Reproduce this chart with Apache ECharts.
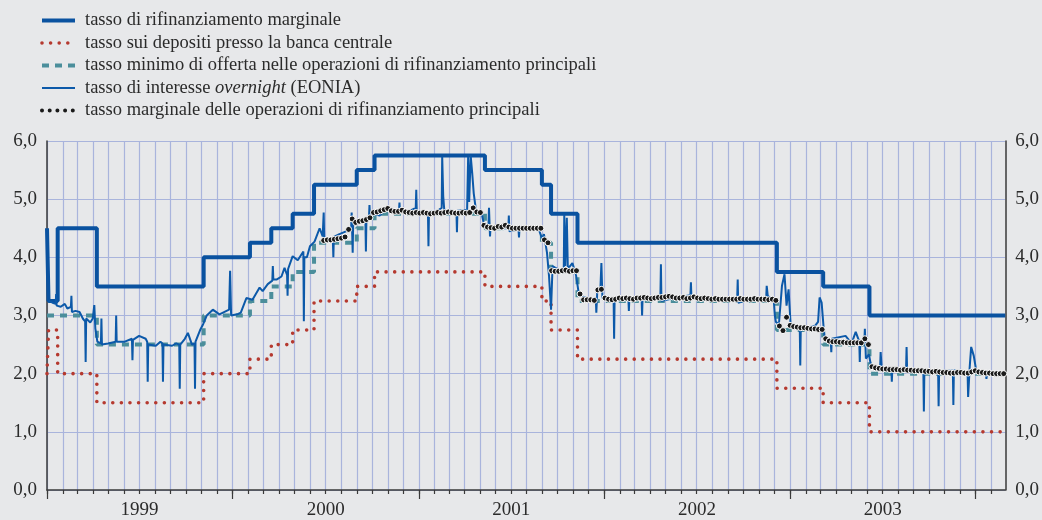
<!DOCTYPE html>
<html>
<head>
<meta charset="utf-8">
<title>Tassi di interesse dell'area dell'euro</title>
<script src="https://cdn.jsdelivr.net/npm/echarts@6/dist/echarts.min.js"></script>
<style>
  html, body { margin: 0; padding: 0; background: #e7e8ea; }
  #chart { width: 1042px; height: 520px; }
</style>
</head>
<body>
<div id="chart"></div>
<script>
// tassi ufficiali: [data di decorrenza, valore]
var marginalLending = [
  ['1999-01-01', 4.5], ['1999-01-04', 3.25], ['1999-01-22', 4.5], ['1999-04-09', 3.5],
  ['1999-11-05', 4.0], ['2000-02-04', 4.25], ['2000-03-17', 4.5], ['2000-04-28', 4.75],
  ['2000-06-09', 5.25], ['2000-09-01', 5.5], ['2000-10-06', 5.75], ['2001-05-11', 5.5],
  ['2001-08-31', 5.25], ['2001-09-18', 4.75], ['2001-11-09', 4.25], ['2002-12-06', 3.75],
  ['2003-03-07', 3.5], ['2003-06-06', 3.0], ['2004-02-28', 3.0]
]
var depositRate = [
  ['1999-01-01', 2.0], ['1999-01-04', 2.75], ['1999-01-22', 2.0], ['1999-04-09', 1.5],
  ['1999-11-05', 2.0], ['2000-02-04', 2.25], ['2000-03-17', 2.5], ['2000-04-28', 2.75],
  ['2000-06-09', 3.25], ['2000-09-01', 3.5], ['2000-10-06', 3.75], ['2001-05-11', 3.5],
  ['2001-08-31', 3.25], ['2001-09-18', 2.75], ['2001-11-09', 2.25], ['2002-12-06', 1.75],
  ['2003-03-07', 1.5], ['2003-06-06', 1.0], ['2004-02-28', 1.0]
]
var minBidRate = [
  ['1999-01-01', 3.0], ['1999-04-09', 2.5], ['1999-11-05', 3.0], ['2000-02-04', 3.25],
  ['2000-03-17', 3.5], ['2000-04-28', 3.75], ['2000-06-09', 4.25], ['2000-09-01', 4.5],
  ['2000-10-06', 4.75], ['2001-05-11', 4.5], ['2001-08-31', 4.25], ['2001-09-18', 3.75],
  ['2001-11-09', 3.25], ['2002-12-06', 2.75], ['2003-03-07', 2.5], ['2003-06-06', 2.0],
  ['2004-02-28', 2.0]
]
// EONIA
var eonia = [
  ['1999-01-04', 3.25], ['1999-01-12', 3.22], ['1999-01-18', 3.2], ['1999-01-19', 3.37], ['1999-01-20', 3.17],
  ['1999-01-28', 3.15], ['1999-02-05', 3.2], ['1999-02-10', 3.12], ['1999-02-17', 3.15], ['1999-02-18', 3.34],
  ['1999-02-19', 3.06], ['1999-02-26', 3.08], ['1999-03-06', 3.06], ['1999-03-13', 2.94], ['1999-03-17', 2.9],
  ['1999-03-18', 2.2], ['1999-03-19', 2.95], ['1999-03-27', 2.88], ['1999-04-01', 2.95], ['1999-04-04', 3.18],
  ['1999-04-06', 2.78], ['1999-04-10', 2.55], ['1999-04-17', 2.52], ['1999-04-18', 2.95], ['1999-04-19', 2.5],
  ['1999-05-01', 2.52], ['1999-05-16', 2.55], ['1999-05-17', 3.0], ['1999-05-18', 2.55], ['1999-06-03', 2.55],
  ['1999-06-17', 2.6], ['1999-06-18', 2.23], ['1999-06-19', 2.58], ['1999-07-01', 2.65], ['1999-07-14', 2.6],
  ['1999-07-17', 2.55], ['1999-07-18', 1.86], ['1999-07-19', 2.5], ['1999-08-03', 2.48], ['1999-08-12', 2.55],
  ['1999-08-16', 2.52], ['1999-08-17', 1.86], ['1999-08-18', 2.5], ['1999-09-04', 2.48], ['1999-09-12', 2.52],
  ['1999-09-18', 2.5], ['1999-09-19', 1.74], ['1999-09-20', 2.5], ['1999-09-29', 2.6], ['1999-10-05', 2.7],
  ['1999-10-13', 2.5], ['1999-10-18', 2.52], ['1999-10-19', 1.74], ['1999-10-20', 2.55], ['1999-10-29', 2.75],
  ['1999-11-04', 2.85], ['1999-11-11', 3.0], ['1999-11-23', 3.1], ['1999-12-06', 3.02], ['1999-12-20', 3.08],
  ['1999-12-25', 3.1], ['1999-12-27', 3.77], ['1999-12-29', 3.0],
  ['2000-01-10', 3.02], ['2000-01-17', 3.05], ['2000-01-28', 3.3], ['2000-02-09', 3.27], ['2000-02-23', 3.48],
  ['2000-02-29', 3.42], ['2000-03-10', 3.54], ['2000-03-19', 3.6], ['2000-03-20', 3.85], ['2000-03-21', 3.62],
  ['2000-03-28', 3.62], ['2000-04-06', 3.67], ['2000-04-12', 3.82], ['2000-04-17', 3.7], ['2000-04-18', 3.34],
  ['2000-04-19', 3.8], ['2000-04-28', 4.02], ['2000-05-08', 3.95], ['2000-05-19', 4.1], ['2000-05-20', 2.9],
  ['2000-05-21', 4.0], ['2000-05-26', 4.0], ['2000-06-01', 4.19], ['2000-06-10', 4.27], ['2000-06-20', 4.5],
  ['2000-06-26', 4.36], ['2000-06-28', 4.77], ['2000-06-29', 4.3], ['2000-07-06', 4.3], ['2000-07-16', 4.3],
  ['2000-07-17', 4.0], ['2000-07-18', 4.35], ['2000-07-29', 4.4], ['2000-08-12', 4.45], ['2000-08-21', 4.5],
  ['2000-08-22', 4.77], ['2000-08-24', 4.08], ['2000-08-25', 4.6], ['2000-09-06', 4.6], ['2000-09-18', 4.62],
  ['2000-09-19', 4.1], ['2000-09-20', 4.65], ['2000-09-25', 4.68], ['2000-09-26', 4.9], ['2000-09-27', 4.72],
  ['2000-10-02', 4.75], ['2000-10-16', 4.72], ['2000-10-30', 4.85], ['2000-11-10', 4.78], ['2000-11-23', 4.8],
  ['2000-11-24', 4.94], ['2000-11-25', 4.78], ['2000-12-14', 4.8], ['2000-12-26', 4.85], ['2000-12-27', 5.16],
  ['2000-12-28', 4.8],
  ['2001-01-12', 4.78], ['2001-01-19', 4.76], ['2001-01-20', 4.19], ['2001-01-21', 4.78], ['2001-02-07', 4.8],
  ['2001-02-15', 4.85], ['2001-02-16', 5.73], ['2001-02-18', 5.05], ['2001-02-20', 4.82], ['2001-03-08', 4.8],
  ['2001-03-16', 4.78], ['2001-03-17', 4.43], ['2001-03-18', 4.8], ['2001-04-06', 4.82], ['2001-04-08', 5.73],
  ['2001-04-10', 4.95], ['2001-04-13', 5.75], ['2001-04-16', 5.45], ['2001-04-19', 5.1], ['2001-04-24', 4.77],
  ['2001-05-04', 4.78], ['2001-05-10', 4.53], ['2001-05-18', 4.55], ['2001-05-19', 4.85], ['2001-05-21', 4.36],
  ['2001-05-22', 4.52], ['2001-06-02', 4.52], ['2001-06-18', 4.5], ['2001-06-26', 4.5], ['2001-06-27', 4.72],
  ['2001-06-28', 4.45], ['2001-07-16', 4.48], ['2001-07-17', 4.34], ['2001-07-18', 4.5], ['2001-08-06', 4.52],
  ['2001-08-25', 4.48], ['2001-09-01', 4.3], ['2001-09-04', 4.4], ['2001-09-10', 4.08], ['2001-09-14', 3.68],
  ['2001-09-18', 3.1], ['2001-09-21', 3.85], ['2001-10-04', 3.78], ['2001-10-13', 3.8], ['2001-10-14', 4.73],
  ['2001-10-16', 3.85], ['2001-10-19', 4.68], ['2001-10-21', 3.8], ['2001-10-30', 3.9], ['2001-11-06', 3.7],
  ['2001-11-12', 3.35], ['2001-11-26', 3.3], ['2001-12-15', 3.3], ['2001-12-16', 3.05], ['2001-12-18', 3.44],
  ['2001-12-24', 3.45], ['2001-12-26', 3.9], ['2001-12-28', 3.3],
  ['2002-01-10', 3.27], ['2002-01-19', 3.28], ['2002-01-20', 2.6], ['2002-01-21', 3.3], ['2002-02-08', 3.3],
  ['2002-02-17', 3.3], ['2002-02-18', 3.08], ['2002-02-19', 3.3], ['2002-03-15', 3.3], ['2002-03-16', 3.0],
  ['2002-03-17', 3.3], ['2002-04-09', 3.3], ['2002-04-21', 3.32], ['2002-04-22', 3.88], ['2002-04-23', 3.25],
  ['2002-05-18', 3.3], ['2002-06-19', 3.35], ['2002-06-20', 3.57], ['2002-06-21', 3.3], ['2002-07-16', 3.3],
  ['2002-08-14', 3.3], ['2002-09-19', 3.3], ['2002-09-20', 3.62], ['2002-09-21', 3.22], ['2002-10-22', 3.3],
  ['2002-11-15', 3.3], ['2002-11-16', 3.51], ['2002-11-18', 3.34], ['2002-11-30', 3.25], ['2002-12-02', 3.0],
  ['2002-12-04', 2.89], ['2002-12-10', 2.85], ['2002-12-16', 3.51], ['2002-12-21', 3.71], ['2002-12-25', 3.17],
  ['2002-12-29', 3.45],
  ['2003-01-02', 2.85], ['2003-01-08', 2.8], ['2003-01-20', 2.8], ['2003-01-21', 2.14], ['2003-01-22', 2.8],
  ['2003-02-06', 2.8], ['2003-02-19', 2.82], ['2003-02-25', 2.89], ['2003-02-28', 3.31], ['2003-03-04', 3.22],
  ['2003-03-08', 2.78], ['2003-03-10', 2.6], ['2003-03-18', 2.6], ['2003-03-22', 2.55], ['2003-03-23', 2.37],
  ['2003-03-24', 2.6], ['2003-04-20', 2.65], ['2003-05-02', 2.52], ['2003-05-10', 2.72], ['2003-05-17', 2.55],
  ['2003-05-18', 2.2], ['2003-05-19', 2.55], ['2003-05-27', 2.55], ['2003-05-28', 2.77], ['2003-05-30', 2.26],
  ['2003-06-05', 2.33], ['2003-06-09', 2.14], ['2003-06-17', 2.1], ['2003-06-27', 2.1], ['2003-06-28', 2.37],
  ['2003-06-30', 2.1], ['2003-07-19', 2.08], ['2003-07-20', 1.86], ['2003-07-21', 2.08], ['2003-08-08', 2.08],
  ['2003-08-17', 2.08], ['2003-08-18', 2.46], ['2003-08-19', 2.1], ['2003-09-07', 2.05], ['2003-09-20', 2.05],
  ['2003-09-21', 1.35], ['2003-09-22', 2.05], ['2003-10-10', 2.05], ['2003-10-19', 2.05], ['2003-10-20', 1.44],
  ['2003-10-21', 2.05], ['2003-11-08', 2.05], ['2003-11-17', 2.05], ['2003-11-18', 1.46], ['2003-11-19', 2.06],
  ['2003-12-08', 2.0], ['2003-12-16', 2.0], ['2003-12-17', 1.6], ['2003-12-20', 2.1], ['2003-12-23', 2.46],
  ['2003-12-28', 2.31], ['2004-01-02', 2.05], ['2004-01-16', 2.0], ['2004-01-21', 2.0], ['2004-01-22', 1.91],
  ['2004-01-23', 2.0], ['2004-02-01', 2.0], ['2004-02-14', 2.02], ['2004-02-27', 2.0]
]
// tasso marginale delle aste settimanali (dal 28 giugno 2000)
var mroStart = '2000-06-28'
var mroMarginal = [
  4.29, 4.30, 4.30, 4.31, 4.32, 4.33, 4.35, 4.48, 4.66, 4.60,
  4.62, 4.63, 4.65, 4.68, 4.77, 4.78, 4.80, 4.82, 4.84, 4.80,
  4.79, 4.79, 4.81, 4.78, 4.77, 4.76, 4.77, 4.76, 4.77, 4.76,
  4.75, 4.76, 4.77, 4.76, 4.77, 4.78, 4.77, 4.76, 4.76, 4.77,
  4.76, 4.77, 4.85, 4.78, 4.77, 4.55, 4.52, 4.51, 4.50, 4.53,
  4.52, 4.55, 4.52, 4.50, 4.50, 4.50, 4.50, 4.50, 4.50, 4.50,
  4.50, 4.50, 4.30, 4.25, 3.77, 3.76, 3.76, 3.77, 3.78, 3.76,
  3.77, 3.77, 3.37, 3.27, 3.27, 3.27, 3.26, 3.44, 3.45, 3.30,
  3.28, 3.27, 3.28, 3.30, 3.29, 3.30, 3.29, 3.28, 3.30, 3.30,
  3.31, 3.30, 3.29, 3.30, 3.31, 3.31, 3.32, 3.33, 3.32, 3.30,
  3.30, 3.31, 3.29, 3.30, 3.32, 3.30, 3.29, 3.30, 3.29, 3.28,
  3.29, 3.28, 3.28, 3.28, 3.28, 3.28, 3.28, 3.29, 3.28, 3.28,
  3.28, 3.29, 3.28, 3.28, 3.28, 3.27, 3.28, 3.26, 2.82, 2.74,
  2.97, 2.83, 2.81, 2.80, 2.79, 2.79, 2.78, 2.77, 2.77, 2.76,
  2.76, 2.60, 2.56, 2.55, 2.55, 2.54, 2.54, 2.53, 2.53, 2.53,
  2.53, 2.53, 2.60, 2.50, 2.12, 2.10, 2.09, 2.08, 2.08, 2.07,
  2.07, 2.07, 2.06, 2.07, 2.06, 2.06, 2.05, 2.05, 2.05, 2.04,
  2.04, 2.03, 2.04, 2.03, 2.02, 2.02, 2.01, 2.01, 2.02, 2.02,
  2.01, 2.01, 2.03, 2.05, 2.03, 2.02, 2.01, 2.01, 2.00, 2.00,
  2.00, 2.00
]
var years = ['1999', '2000', '2001', '2002', '2003']
var yLabels = ['0,0', '1,0', '2,0', '3,0', '4,0', '5,0', '6,0']
var seriesNames = [
  'tasso di rifinanziamento marginale',
  'tasso sui depositi presso la banca centrale',
  'tasso minimo di offerta nelle operazioni di rifinanziamento principali',
  'tasso di interesse overnight (EONIA)',
  'tasso marginale delle operazioni di rifinanziamento principali'
]

function ts(s) {
  var p = s.split('-')
  return new Date(+p[0], +p[1] - 1, +p[2]).getTime()
}
function toPoints(arr) {
  return arr.map(function (d) { return [ts(d[0]), d[1]] })
}

var axisStart = ts('1999-01-01')
var axisEnd = ts('2004-02-28')

// tick mensili e annuali
var monthTicks = []
var yearTicks = []
for (var y = 1999; y <= 2004; y++) {
  yearTicks.push(new Date(y, 0, 1).getTime())
  for (var m = 0; m < 12; m++) {
    var t = new Date(y, m, 1).getTime()
    if (t <= axisEnd) monthTicks.push(t)
  }
}
// etichette degli anni al centro dell'anno
var yearLabelPos = years.map(function (s) {
  return new Date(+s, 6, 2).getTime()
})

var mroData = mroMarginal.map(function (v, i) {
  var d = new Date(ts(mroStart))
  d.setDate(d.getDate() + 7 * i)
  return [d.getTime(), v]
})

var font = 'Liberation Serif'
var textColor = '#2b2b2b'
var gridColor = '#a9b4dc'
var axisColor = '#3a3a3a'
var blue = '#0a52a0'
var eoniaBlue = '#0c59a9'
var red = '#b5392f'
var teal = '#4b8e9b'

var chart = echarts.init(document.getElementById('chart'))
chart.setOption({
  animation: false,
  backgroundColor: '#e7e8ea',
  grid: { left: 47, right: 36, top: 141, bottom: 27.5 },
  legend: {
    orient: 'vertical',
    left: 40,
    top: 11,
    padding: 0,
    itemWidth: 33,
    itemHeight: 14,
    itemGap: 3.5,
    selectedMode: false,
    data: [
      { name: seriesNames[0], itemStyle: { opacity: 0 }, lineStyle: { width: 4 } },
      { name: seriesNames[1], itemStyle: { opacity: 0 }, lineStyle: { width: 3.6 } },
      { name: seriesNames[2], itemStyle: { opacity: 0 }, lineStyle: { width: 4 } },
      { name: seriesNames[3], itemStyle: { opacity: 0 }, lineStyle: { width: 2 } },
      {
        name: seriesNames[4],
        itemStyle: { opacity: 0 },
        lineStyle: { color: '#1a1a1a', width: 4, type: [0, 7.7], cap: 'round', opacity: 1 }
      }
    ],
    formatter: function (name) {
      if (name === seriesNames[3]) {
        return '{n|tasso di interesse }{i|overnight}{n| (EONIA)}'
      }
      return '{n|' + name + '}'
    },
    textStyle: {
      padding: [0, 0, 0, 5],
      rich: {
        n: { fontFamily: font, fontSize: 18.5, color: textColor },
        i: { fontFamily: font, fontSize: 18.5, fontStyle: 'italic', color: textColor }
      }
    }
  },
  xAxis: [
    {
      type: 'value',
      min: axisStart,
      max: axisEnd,
      position: 'bottom',
      axisLine: { show: true, lineStyle: { color: axisColor, width: 1.5 } },
      axisTick: { show: true, customValues: monthTicks, length: 4, lineStyle: { color: axisColor, width: 1.2 } },
      axisLabel: { show: false },
      splitLine: { show: true, lineStyle: { color: gridColor, width: 1.2 } }
    },
    {
      type: 'value',
      min: axisStart,
      max: axisEnd,
      position: 'bottom',
      axisLine: { show: false },
      axisTick: { show: true, customValues: yearTicks, length: 9, lineStyle: { color: axisColor, width: 1.2 } },
      axisLabel: {
        show: true,
        customValues: yearLabelPos,
        margin: 11,
        fontFamily: font,
        fontSize: 19,
        color: textColor,
        formatter: function (v) {
          var i = yearLabelPos.indexOf(v)
          return i >= 0 ? years[i] : String(new Date(v).getFullYear())
        }
      },
      splitLine: { show: false }
    }
  ],
  yAxis: [
    {
      type: 'value',
      min: 0,
      max: 6,
      interval: 1,
      position: 'left',
      axisLine: { show: true, lineStyle: { color: axisColor, width: 1.5 } },
      axisTick: { show: false },
      axisLabel: {
        margin: 10,
        fontFamily: font,
        fontSize: 19,
        color: textColor,
        formatter: function (v) { return yLabels[Math.round(v)] }
      },
      splitLine: { show: true, lineStyle: { color: gridColor, width: 1.2 } }
    },
    {
      type: 'value',
      min: 0,
      max: 6,
      interval: 1,
      position: 'right',
      axisLine: { show: true, lineStyle: { color: axisColor, width: 1.5 } },
      axisTick: { show: false },
      axisLabel: {
        margin: 10,
        fontFamily: font,
        fontSize: 19,
        color: textColor,
        formatter: function (v) { return yLabels[Math.round(v)] }
      },
      splitLine: { show: false }
    }
  ],
  series: [
    {
      name: seriesNames[0],
      type: 'line',
      step: 'end',
      data: toPoints(marginalLending),
      showSymbol: false,
      lineStyle: { color: blue, width: 4 },
      itemStyle: { color: blue },
      z: 2
    },
    {
      name: seriesNames[1],
      type: 'line',
      step: 'end',
      data: toPoints(depositRate),
      showSymbol: false,
      lineStyle: { color: red, width: 3.6, type: [0, 8.6], cap: 'round' },
      itemStyle: { color: red },
      z: 2
    },
    {
      name: seriesNames[2],
      type: 'line',
      step: 'end',
      data: toPoints(minBidRate),
      showSymbol: false,
      lineStyle: { color: teal, width: 4, type: [7, 6] },
      itemStyle: { color: teal },
      z: 3
    },
    {
      name: seriesNames[3],
      type: 'line',
      data: toPoints(eonia),
      showSymbol: false,
      lineStyle: { color: eoniaBlue, width: 2 },
      itemStyle: { color: eoniaBlue },
      z: 4
    },
    {
      name: seriesNames[4],
      type: 'line',
      data: mroData,
      symbol: 'circle',
      symbolSize: 6,
      showSymbol: true,
      lineStyle: { width: 0, opacity: 0 },
      itemStyle: { color: '#1a1a1a', borderColor: '#ffffff', borderWidth: 1 },
      z: 5
    }
  ]
})
</script>
</body>
</html>
